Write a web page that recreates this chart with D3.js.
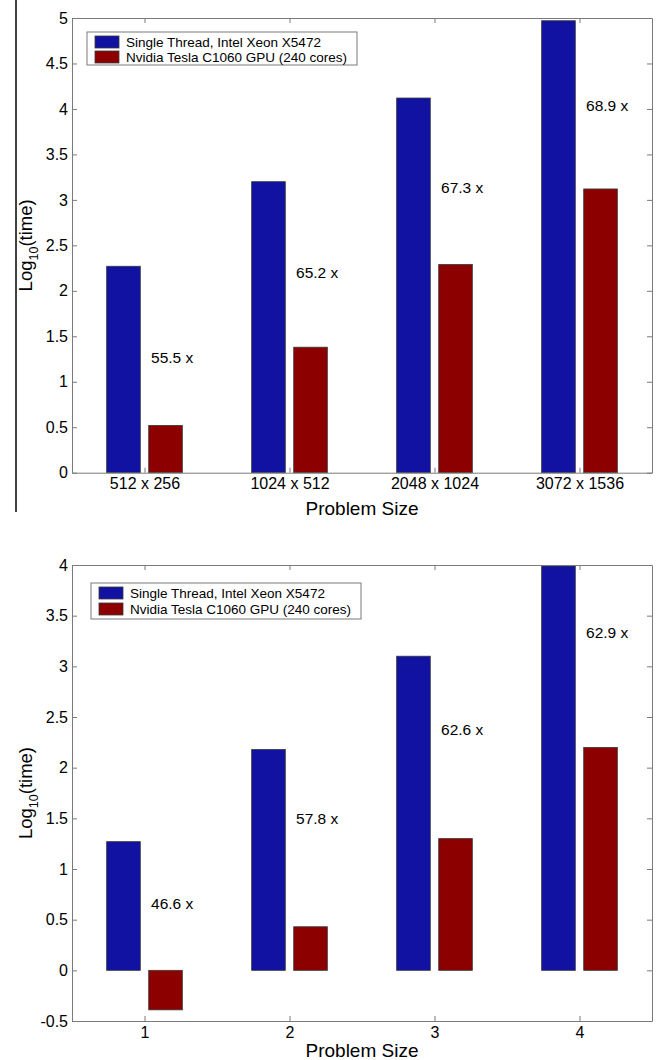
<!DOCTYPE html>
<html>
<head>
<meta charset="utf-8">
<script src="https://cdn.jsdelivr.net/npm/d3@7"></script>
<style>
body{margin:0;background:#fff}
text{font-family:Arial,"Liberation Sans",sans-serif}
</style>
</head>
<body>
<svg id="fig"></svg>
<script>
// data
var seriesNames = ["Single Thread, Intel Xeon X5472", "Nvidia Tesla C1060 GPU (240 cores)"];
var seriesColors = ["#1111a2", "#8c0000"];

var topCategories = ["512 x 256", "1024 x 512", "2048 x 1024", "3072 x 1536"];
var topCpu = [2.27, 3.2, 4.12, 4.97];
var topGpu = [0.52, 1.38, 2.29, 3.12];
var topSpeedup = ["55.5 x", "65.2 x", "67.3 x", "68.9 x"];
var topSpeedupAt = [1.27, 2.2, 3.14, 4.04];
var topYTicks = [0, 0.5, 1, 1.5, 2, 2.5, 3, 3.5, 4, 4.5, 5];

var bottomCategories = ["1", "2", "3", "4"];
var bottomCpu = [1.27, 2.18, 3.1, 3.99];
var bottomGpu = [-0.39, 0.43, 1.3, 2.2];
var bottomSpeedup = ["46.6 x", "57.8 x", "62.6 x", "62.9 x"];
var bottomSpeedupAt = [0.66, 1.5, 2.38, 3.33];
var bottomYTicks = [-0.5, 0, 0.5, 1, 1.5, 2, 2.5, 3, 3.5, 4];

var svg = d3.select("#fig").attr("width", 661).attr("height", 1060);

// black rule at the left of the upper figure
svg.append("line")
    .attr("x1", 16).attr("x2", 16)
    .attr("y1", 0).attr("y2", 512)
    .attr("stroke", "#000").attr("stroke-width", 1.5);

var drawChart = function(opt)
{
    var g = svg.append("g")
        .attr("transform", "translate(" + opt.left + "," + opt.top + ")");

    var xScale = d3.scaleLinear().domain([0.5, 4.5]).range([0, opt.width]);
    var yScale = d3.scaleLinear().domain(opt.yDomain).range([opt.height, 0]);

    // bars
    var series = [opt.cpu, opt.gpu];
    var offsets = [-0.145, 0.145];
    var bw = 0.232;
    series.forEach(function(vals, s) {
        g.selectAll(".bar" + s)
            .data(vals)
            .enter()
            .append("rect")
            .attr("x", function(d, i) { return xScale(i + 1 + offsets[s] - bw / 2); })
            .attr("width", xScale(1 + bw) - xScale(1))
            .attr("y", function(d) { return yScale(Math.max(0, d)); })
            .attr("height", function(d) { return Math.abs(yScale(d) - yScale(0)); })
            .attr("fill", opt.colors[s])
            .attr("stroke", "#3a3a3a")
            .attr("stroke-width", 0.8);
    });

    // speedup annotations
    g.selectAll(".speed")
        .data(opt.speedup)
        .enter()
        .append("text")
        .attr("x", function(d, i) { return xScale(i + 1.045); })
        .attr("y", function(d, i) { return yScale(opt.speedupAt[i]); })
        .attr("dy", "0.35em")
        .attr("font-size", 15.5)
        .text(function(d) { return d; });

    // axes, ticks pointing inwards like matlab
    var ax = function(sel) {
        sel.select(".domain").attr("stroke", "#7a7a7a");
        sel.selectAll(".tick line").attr("stroke", "#7a7a7a");
        sel.selectAll("text").attr("fill", "#000");
    };
    g.append("g")
        .attr("transform", "translate(0," + opt.height + ")")
        .call(d3.axisBottom(xScale).tickValues([1, 2, 3, 4])
            .tickFormat(function(d) { return opt.categories[d - 1]; })
            .tickSizeInner(-5).tickSizeOuter(0).tickPadding(opt.xPad))
        .call(ax)
        .selectAll("text").attr("font-size", 16);
    g.append("g")
        .call(d3.axisTop(xScale).tickValues([1, 2, 3, 4]).tickFormat("")
            .tickSizeInner(-5).tickSizeOuter(0))
        .call(ax);
    g.append("g")
        .call(d3.axisLeft(yScale).tickValues(opt.yTicks)
            .tickFormat(function(d) { return String(d); })
            .tickSizeInner(-5).tickSizeOuter(0).tickPadding(4))
        .call(ax)
        .selectAll("text").attr("font-size", 16);
    g.append("g")
        .attr("transform", "translate(" + opt.width + ",0)")
        .call(d3.axisRight(yScale).tickValues(opt.yTicks).tickFormat("")
            .tickSizeInner(-5).tickSizeOuter(0))
        .call(ax);

    // axis titles
    g.append("text")
        .attr("x", opt.width / 2)
        .attr("y", opt.height + opt.titleGap)
        .attr("text-anchor", "middle")
        .attr("font-size", 19)
        .text("Problem Size");

    var yl = g.append("text")
        .attr("transform", "translate(" + (-40) + "," + (opt.height / 2) + ") rotate(-90)")
        .attr("text-anchor", "middle")
        .attr("font-size", 18.5);
    yl.append("tspan").text("Log");
    yl.append("tspan").attr("font-size", 12.5).attr("dy", 6).text("10");
    yl.append("tspan").attr("dy", -6).text("(time)");

    // legend
    var lg = g.append("g").attr("transform", "translate(" + opt.legend[0] + "," + opt.legend[1] + ")");
    lg.append("rect")
        .attr("width", 270).attr("height", opt.legendH)
        .attr("fill", "#fff").attr("stroke", "#7a7a7a");
    var rows = lg.selectAll(".row")
        .data(seriesNames)
        .enter()
        .append("g")
        .attr("transform", function(d, i) { return "translate(8," + (4 + i * opt.legendRow) + ")"; });
    rows.append("rect")
        .attr("width", 24).attr("height", 12)
        .attr("fill", function(d, i) { return opt.colors[i]; })
        .attr("stroke", "#3a3a3a").attr("stroke-width", 0.8);
    rows.append("text")
        .attr("x", 31).attr("y", 6).attr("dy", "0.36em")
        .attr("font-size", 13.5)
        .text(function(d) { return d; });
};

drawChart({
    left: 72, top: 18, width: 580, height: 454.7,
    yDomain: [0, 5], yTicks: topYTicks,
    categories: topCategories, cpu: topCpu, gpu: topGpu,
    speedup: topSpeedup, speedupAt: topSpeedupAt,
    colors: seriesColors, xPad: 5, titleGap: 42,
    legend: [15, 14], legendH: 33, legendRow: 15
});

drawChart({
    left: 72, top: 565, width: 580, height: 456,
    yDomain: [-0.5, 4], yTicks: bottomYTicks,
    categories: bottomCategories, cpu: bottomCpu, gpu: bottomGpu,
    speedup: bottomSpeedup, speedupAt: bottomSpeedupAt,
    colors: seriesColors, xPad: 6, titleGap: 36,
    legend: [19, 18], legendH: 36, legendRow: 16
});
</script>
</body>
</html>
